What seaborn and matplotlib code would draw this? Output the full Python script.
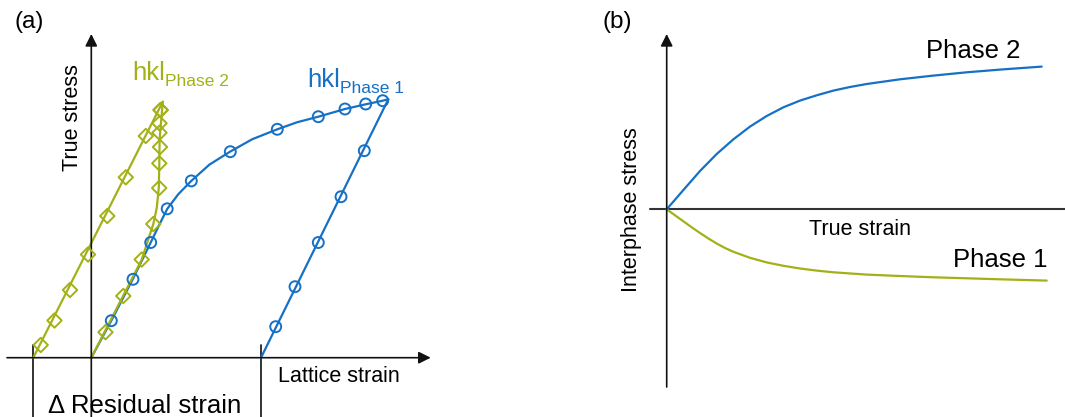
import matplotlib
matplotlib.use("Agg")
import matplotlib.pyplot as plt
import seaborn as sns

sns.set_style("white")
plt.rcParams['font.family'] = ['Liberation Sans', 'DejaVu Sans']
plt.rcParams['text.color'] = 'black'

BLUE = '#1670c6'
GREEN = '#a3b118'
AXIS = '#111111'

# ---------------- (a) lattice strain vs true stress ----------------
# Phase 1 (blue): loading curve and elastic unloading
p1_load_x = [0.0, 0.20, 0.414, 0.594, 0.68, 0.76, 0.87, 1.0, 1.18, 1.387, 1.61, 1.86, 2.06, 2.27, 2.537, 2.744, 2.914, 2.97]
p1_load_y = [0.0, 0.37, 0.784, 1.152, 1.33, 1.489, 1.635, 1.768, 1.93, 2.06, 2.185, 2.284, 2.355, 2.41, 2.487, 2.534, 2.57, 2.584]
p1_load_mx = [0.20, 0.417, 0.594, 0.759, 1.0, 1.39, 1.86, 2.27, 2.537, 2.744, 2.914]
p1_load_my = [0.37, 0.784, 1.152, 1.489, 1.768, 2.06, 2.284, 2.41, 2.487, 2.537, 2.57]
p1_unload_x = [1.697, 2.97]
p1_unload_y = [0.0, 2.584]
p1_unload_mx = [1.844, 2.037, 2.27, 2.497, 2.73]
p1_unload_my = [0.31, 0.71, 1.152, 1.61, 2.07]

# Phase 2 (green): loading and elastic unloading
p2_load_x = [0.0, 0.504, 0.62, 0.655, 0.675, 0.68, 0.683, 0.715]
p2_load_y = [0.0, 0.98, 1.337, 1.50, 1.70, 1.944, 2.18, 2.56]
p2_load_mx = [0.142, 0.32, 0.504, 0.62, 0.679, 0.68, 0.687, 0.682, 0.682, 0.694]
p2_load_my = [0.255, 0.617, 0.982, 1.337, 1.697, 1.944, 2.107, 2.25, 2.344, 2.477]
p2_unload_x = [-0.58, 0.715]
p2_unload_y = [0.0, 2.56]
p2_unload_mx = [-0.506, -0.368, -0.213, -0.033, 0.16, 0.345, 0.545, 0.692]
p2_unload_my = [0.127, 0.372, 0.677, 1.032, 1.417, 1.804, 2.217, 2.477]

# residual strain markers on the strain axis
resid_x = [-0.58, 1.697]

# ---------------- (b) interphase stress vs true strain ----------------
ph2_x = [0.0, 0.167, 0.333, 0.5, 0.667, 0.833, 1.0, 1.167, 1.333, 1.5, 1.667, 1.833, 2.0, 2.333, 2.667, 3.0, 3.333, 3.75]
ph2_y = [0.0, 0.193, 0.383, 0.553, 0.70, 0.827, 0.933, 1.02, 1.087, 1.14, 1.187, 1.223, 1.253, 1.30, 1.337, 1.37, 1.397, 1.427]
ph1_x = [0.0, 0.083, 0.167, 0.25, 0.333, 0.417, 0.5, 0.583, 0.667, 0.833, 1.0, 1.167, 1.333, 1.5, 1.667, 2.0, 2.333, 2.667, 3.0, 3.333, 3.8]
ph1_y = [0.0, -0.06, -0.12, -0.18, -0.237, -0.292, -0.342, -0.387, -0.425, -0.485, -0.531, -0.565, -0.592, -0.613, -0.63, -0.653, -0.667, -0.68, -0.69, -0.70, -0.713]

W, H = 1065, 417
fig = plt.figure(figsize=(W / 100, H / 100), dpi=100)
axa = fig.add_axes([0, 0, 450 / W, 1])
axb = fig.add_axes([600 / W, 0, 465 / W, 1])
axa.set_xlim(-0.913, 3.587)
axa.set_ylim(-0.593, 3.577)
axb.set_xlim(-0.667, 3.983)
axb.set_ylim(-2.077, 2.093)
for ax in (axa, axb):
    ax.set_axis_off()


def axis_arrow(ax, start, tip, color=AXIS, lw=1.2):
    ax.annotate('', xy=tip, xytext=start,
                arrowprops=dict(arrowstyle='-|>,head_length=0.6,head_width=0.3',
                                color=color, lw=lw, shrinkA=0, shrinkB=0,
                                mutation_scale=12))


# axes of panel (a)
axis_arrow(axa, (-0.843, 0), (3.394, 0))
axis_arrow(axa, (0, -0.62), (0, 3.237))
for rx in resid_x:
    axa.plot([rx, rx], [0.127, -0.62], color=AXIS, lw=1.2)

lw = 1.6
sns.lineplot(x=p1_load_x, y=p1_load_y, sort=False, estimator=None, color=BLUE, lw=lw, ax=axa)
sns.lineplot(x=p1_unload_x, y=p1_unload_y, sort=False, estimator=None, color=BLUE, lw=lw, ax=axa)
sns.lineplot(x=p2_load_x, y=p2_load_y, sort=False, estimator=None, color=GREEN, lw=lw, ax=axa)
sns.lineplot(x=p2_unload_x, y=p2_unload_y, sort=False, estimator=None, color=GREEN, lw=lw, ax=axa)

for mx, my in ((p1_load_mx, p1_load_my), (p1_unload_mx, p1_unload_my)):
    sns.scatterplot(x=mx, y=my, marker='o', s=62, color=BLUE, facecolor='none',
                    edgecolor=BLUE, linewidth=1.4, ax=axa, zorder=3)
for mx, my in ((p2_load_mx, p2_load_my), (p2_unload_mx, p2_unload_my)):
    sns.scatterplot(x=mx, y=my, marker='D', s=54, color=GREEN, facecolor='none',
                    edgecolor=GREEN, linewidth=1.4, ax=axa, zorder=3)

axa.text(-0.763, 3.297, '(a)', fontsize=17.5, ha='left', va='baseline')
axa.text(-0.193, 2.397, 'True stress', fontsize=15.5, rotation=90, ha='center', va='center')
axa.text(1.867, -0.243, 'Lattice strain', fontsize=15.5, ha='left', va='baseline')
axa.text(-0.433, -0.553, '\u0394 Residual strain', fontsize=18.5, ha='left', va='baseline')
axa.text(0.414, 2.777, 'hkl', fontsize=18.5, color=GREEN, ha='left', va='baseline')
axa.text(0.74, 2.717, 'Phase 2', fontsize=12.5, color=GREEN, ha='left', va='baseline')
axa.text(2.16, 2.71, 'hkl', fontsize=18.5, color=BLUE, ha='left', va='baseline')
axa.text(2.49, 2.644, 'Phase 1', fontsize=12.5, color=BLUE, ha='left', va='baseline')

# axes of panel (b)
axb.plot([-0.167, 4.1], [0, 0], color='#333333', lw=1.5)
axis_arrow(axb, (0, -1.777), (0, 1.753))

sns.lineplot(x=ph2_x, y=ph2_y, sort=False, estimator=None, color=BLUE, lw=lw, ax=axb)
sns.lineplot(x=ph1_x, y=ph1_y, sort=False, estimator=None, color=GREEN, lw=lw, ax=axb)

axb.text(-0.647, 1.813, '(b)', fontsize=17.5, ha='left', va='baseline')
axb.text(-0.35, -0.007, 'Interphase stress', fontsize=15.5, rotation=90, ha='center', va='center')
axb.text(1.423, -0.257, 'True strain', fontsize=15.5, ha='left', va='baseline')
axb.text(2.593, 1.516, 'Phase 2', fontsize=18.5, ha='left', va='baseline')
axb.text(2.863, -0.574, 'Phase 1', fontsize=18.5, ha='left', va='baseline')

fig.savefig('out.png', dpi=100)
